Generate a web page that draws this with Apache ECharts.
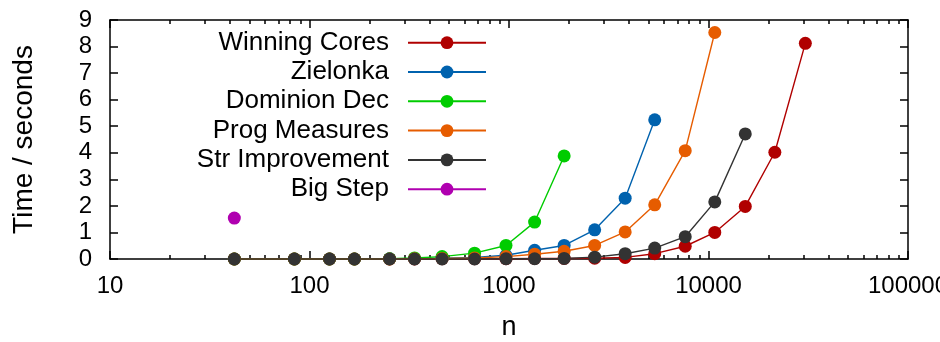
<!DOCTYPE html>
<html>
<head>
<meta charset="utf-8">
<script src="https://cdn.jsdelivr.net/npm/echarts@6/dist/echarts.min.js"></script>
<style>
html,body{margin:0;padding:0;background:#fff;}
#c{width:940px;height:342px;}
</style>
</head>
<body>
<div id="c"></div>
<script>
// ---- data ----
const nValues = [42, 84, 126, 168, 252, 336, 462, 672, 966, 1344, 1890, 2688, 3822, 5376, 7644, 10752, 15288, 21504, 30576];
const seriesNames = ['Winning Cores', 'Zielonka', 'Dominion Dec', 'Prog Measures', 'Str Improvement', 'Big Step'];
const winningCores = [0, 0, 0, 0, 0, 0, 0.01, 0.01, 0.01, 0.02, 0.02, 0.03, 0.06, 0.2, 0.48, 1.0, 1.98, 4.02, 8.12];
const zielonka = [0, 0, 0, 0, 0.01, 0.01, 0.03, 0.06, 0.14, 0.33, 0.51, 1.10, 2.29, 5.24];
const dominionDec = [0, 0, 0, 0, 0.01, 0.04, 0.09, 0.22, 0.51, 1.39, 3.88];
const progMeasures = [0, 0, 0, 0, 0, 0.01, 0.02, 0.04, 0.09, 0.18, 0.29, 0.51, 1.02, 2.04, 4.08, 8.53];
const strImprovement = [0, 0, 0, 0, 0, 0, 0, 0, 0.01, 0.01, 0.02, 0.07, 0.2, 0.41, 0.84, 2.15, 4.71];
const bigStep = [1.54];
const xMajorTicks = [10, 100, 1000, 10000, 100000];
const xMinorTicks = [20,30,40,50,60,70,80,90,200,300,400,500,600,700,800,900,2000,3000,4000,5000,6000,7000,8000,9000,20000,30000,40000,50000,60000,70000,80000,90000];
const yTicks = [0,1,2,3,4,5,6,7,8,9];

const colors = ['#b00000', '#0062ae', '#00cc00', '#e65c00', '#333333', '#b000b0'];
const values = [winningCores, zielonka, dominionDec, progMeasures, strImprovement, bigStep];
const FONT = 'Liberation Sans';

const chart = echarts.init(document.getElementById('c'), null, {renderer: 'canvas'});

const series = seriesNames.map((name, i) => ({
  name: name,
  type: 'line',
  xAxisIndex: 0,
  yAxisIndex: 0,
  data: values[i].map((v, k) => [nValues[k], v]),
  symbol: 'circle',
  symbolSize: 13,
  clip: false,
  lineStyle: {color: colors[i], width: 1.4},
  itemStyle: {color: colors[i]},
  emphasis: {disabled: true},
  animation: false
}));

const legendRowY0 = 42.7, legendRowStep = 29.3;
const legends = seriesNames.map((name, i) => ({
  data: [name],
  orient: 'horizontal',
  align: 'right',
  right: 453,
  top: legendRowY0 + legendRowStep * i - 13,
  itemWidth: 78,
  itemHeight: 16,
  itemGap: 0,
  padding: 0,
  selectedMode: false,
  textStyle: {fontSize: 26, fontFamily: FONT, color: '#000', lineHeight: 26, padding: [0, 14, 0, 0]}
}));

const baseLog = () => ({type: 'log', logBase: 10, min: 10, max: 100000, splitLine: {show: false}, minorTick: {show: false}});
const als = () => ({color: '#000', width: 1.5});
const ts = () => ({color: '#000', width: 1.5});

const option = {
  backgroundColor: '#fff',
  animation: false,
  grid: {left: 110, right: 32, top: 20, bottom: 83, containLabel: false, outerBoundsMode: 'none'},
  legend: legends,
  xAxis: [
    Object.assign(baseLog(), {
      position: 'bottom',
      axisLine: {show: true, onZero: false, lineStyle: als()},
      axisTick: {show: true, inside: true, length: 8, lineStyle: ts(), customValues: xMajorTicks},
      axisLabel: {show: true, customValues: xMajorTicks, fontSize: 24, fontFamily: FONT, color: '#000', margin: 15,
        showMinLabel: true, showMaxLabel: true, hideOverlap: false, formatter: v => String(Math.round(v))},
      name: 'n', nameLocation: 'middle', nameGap: 55,
      nameTextStyle: {fontSize: 27, fontFamily: FONT, color: '#000'}
    }),
    Object.assign(baseLog(), {
      position: 'bottom',
      axisLine: {show: false, onZero: false},
      axisTick: {show: true, inside: true, length: 4, lineStyle: ts(), customValues: xMinorTicks},
      axisLabel: {show: false}
    }),
    Object.assign(baseLog(), {
      position: 'top',
      axisLine: {show: true, onZero: false, lineStyle: als()},
      axisTick: {show: true, inside: true, length: 8, lineStyle: ts(), customValues: xMajorTicks},
      axisLabel: {show: false}
    }),
    Object.assign(baseLog(), {
      position: 'top',
      axisLine: {show: false, onZero: false},
      axisTick: {show: true, inside: true, length: 4, lineStyle: ts(), customValues: xMinorTicks},
      axisLabel: {show: false}
    })
  ],
  yAxis: [
    {
      type: 'value', min: 0, max: 9, interval: 1, position: 'left',
      splitLine: {show: false},
      axisLine: {show: true, onZero: false, lineStyle: als()},
      axisTick: {show: true, inside: true, length: 8, lineStyle: ts()},
      axisLabel: {fontSize: 24, fontFamily: FONT, color: '#000', margin: 18, customValues: yTicks},
      name: 'Time / seconds', nameLocation: 'middle', nameGap: 72, nameRotate: 90,
      nameTextStyle: {fontSize: 28, fontFamily: FONT, color: '#000'}
    },
    {
      type: 'value', min: 0, max: 9, interval: 1, position: 'right',
      splitLine: {show: false},
      axisLine: {show: true, onZero: false, lineStyle: als()},
      axisTick: {show: true, inside: true, length: 8, lineStyle: ts()},
      axisLabel: {show: false}
    }
  ],
  series: series
};
chart.setOption(option);
</script>
</body>
</html>
